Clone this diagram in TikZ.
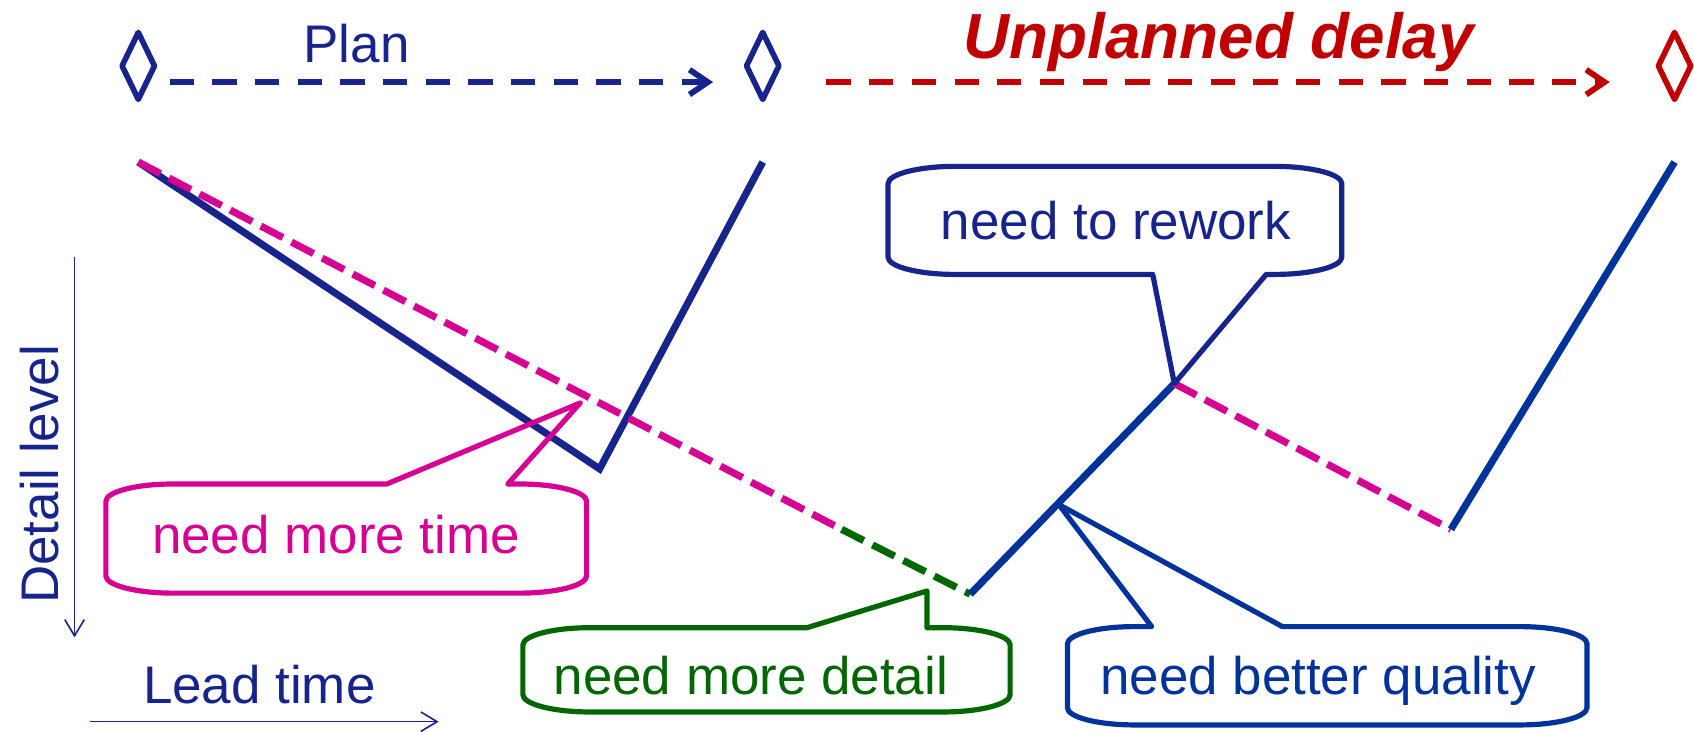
\documentclass[tikz,border=0pt]{standalone}
\usepackage{fontspec}
\setmainfont{Liberation Sans}
\usetikzlibrary{arrows.meta}
\definecolor{navy}{RGB}{22,36,140}
\definecolor{qblue}{RGB}{0,51,153}
\definecolor{mag}{RGB}{214,0,147}
\definecolor{dgreen}{RGB}{0,102,0}
\definecolor{dred}{RGB}{192,0,0}
\newcommand\rxc{62}
\newcommand\ryc{16}
% callout with pointer on the top edge: #1 colour, #2 L, #3 R, #4 T, #5 B, #6 base1 x, #7 base2 x, #8 tip
\newcommand\callUp[8]{%
\draw[callout,#1] (#6,#4) -- (#8) -- (#7,#4) -- (#3-\rxc,#4)
 .. controls (#3-0.45*\rxc,#4) and (#3,#4+0.45*\ryc) .. (#3,#4+\ryc)
 -- (#3,#5-\ryc)
 .. controls (#3,#5-0.45*\ryc) and (#3-0.45*\rxc,#5) .. (#3-\rxc,#5)
 -- (#2+\rxc,#5)
 .. controls (#2+0.45*\rxc,#5) and (#2,#5-0.45*\ryc) .. (#2,#5-\ryc)
 -- (#2,#4+\ryc)
 .. controls (#2,#4+0.45*\ryc) and (#2+0.45*\rxc,#4) .. (#2+\rxc,#4)
 -- cycle;}
% callout with pointer on the bottom edge
\newcommand\callDown[8]{%
\draw[callout,#1] (#6,#5) -- (#8) -- (#7,#5) -- (#3-\rxc,#5)
 .. controls (#3-0.45*\rxc,#5) and (#3,#5-0.45*\ryc) .. (#3,#5-\ryc)
 -- (#3,#4+\ryc)
 .. controls (#3,#4+0.45*\ryc) and (#3-0.45*\rxc,#4) .. (#3-\rxc,#4)
 -- (#2+\rxc,#4)
 .. controls (#2+0.45*\rxc,#4) and (#2,#4+0.45*\ryc) .. (#2,#4+\ryc)
 -- (#2,#5-\ryc)
 .. controls (#2,#5-0.45*\ryc) and (#2+0.45*\rxc,#5) .. (#2+\rxc,#5)
 -- cycle;}
\begin{document}
\begin{tikzpicture}[x=1pt,y=-1pt,
  mainline/.style={line width=6.6pt},
  dline/.style={line width=6.6pt,dash pattern=on 23pt off 9pt},
  callout/.style={line width=4.8pt,line join=round},
  dia/.style={line width=5.2pt,line join=round},
  darrow/.style={line width=5.4pt,dash pattern=on 22.5pt off 17pt,
     -{Straight Barb[length=17pt,width=23pt]}},
  axis/.style={line width=1.5pt,-{Straight Barb[length=15pt,width=18pt]}},
  lbl/.style={font=\fontsize{49}{59}\selectfont,inner sep=0pt},
  big/.style={font=\fontsize{59}{70}\selectfont\bfseries\itshape,inner sep=0pt}]
\useasboundingbox (0,0) rectangle (1568,677);
% milestones
\coordinate (D1) at (128,61);
\coordinate (D2) at (706,61);
\coordinate (D3) at (1550,61);
\draw[dia,navy] (D1) ++(0,-31) -- ++(15,31) -- ++(-15,31) -- ++(-15,-31) -- cycle;
\draw[dia,navy] (D2) ++(0,-31) -- ++(15,31) -- ++(-15,31) -- ++(-15,-31) -- cycle;
\draw[dia,dred] (D3) ++(0,-31) -- ++(15,31) -- ++(-15,31) -- ++(-15,-31) -- cycle;
\coordinate (p1s) at (157,76);
\coordinate (p1e) at (660,76);
\coordinate (p2s) at (765,76);
\coordinate (p2e) at (1490,76);
\draw[darrow,navy] (p1s) -- (p1e);
\draw[darrow,dred] (p2s) -- (p2e);
\node[lbl,navy,anchor=base] (plan) at (330,58) {Plan};
\node[big,dred,anchor=base] (delay) at (1128,54) {Unplanned delay};
% curves
\coordinate (A) at (128,150);
\coordinate (V1) at (555,434);
\coordinate (T1) at (706,150);
\coordinate (M1) at (779,490);
\coordinate (G) at (898,550);
\coordinate (R) at (1087,355);
\coordinate (V2) at (1343,490);
\coordinate (T2) at (1550,150);
\draw[mainline,navy] (A) -- (V1) -- (T1);
\draw[dline,mag] (A) -- (M1);
\draw[dline,dgreen] (M1) -- (G);
\draw[mainline,qblue] (G) -- (R);
\draw[dline,mag] (R) -- (V2);
\draw[mainline,qblue] (V2) -- (T2);
% callouts
\coordinate (tipTime) at (537,373);
\coordinate (tipDetail) at (858,547);
\coordinate (tipQual) at (980,467);
\callUp{mag}{98}{543}{448}{549}{358}{470}{tipTime}
\callUp{dgreen}{484}{935}{581}{659}{747}{858}{tipDetail}
\callUp{qblue}{988}{1469}{580}{671}{1066}{1187}{tipQual}
\callDown{navy}{822}{1242}{154}{254}{1067}{1172}{R}
\node[lbl,mag,anchor=base] (tTime) at (311,512) {need more time};
\node[lbl,dgreen,anchor=base] (tDetail) at (695,643) {need more detail};
\node[lbl,navy,anchor=base] (tRework) at (1033,222) {need to rework};
\node[lbl,qblue,anchor=base] (tQual) at (1220,643) {need better quality};
% axes
\coordinate (ay1) at (69,238);
\coordinate (ay2) at (69,590);
\coordinate (ax1) at (83,668);
\coordinate (ax2) at (406,668);
\draw[axis,navy] (ay1) -- (ay2);
\draw[axis,navy] (ax1) -- (ax2);
\node[lbl,navy,anchor=base,rotate=90] (detail) at (54,439) {Detail level};
\node[lbl,navy,anchor=base] (lead) at (240,651) {Lead time};
\end{tikzpicture}
\end{document}
